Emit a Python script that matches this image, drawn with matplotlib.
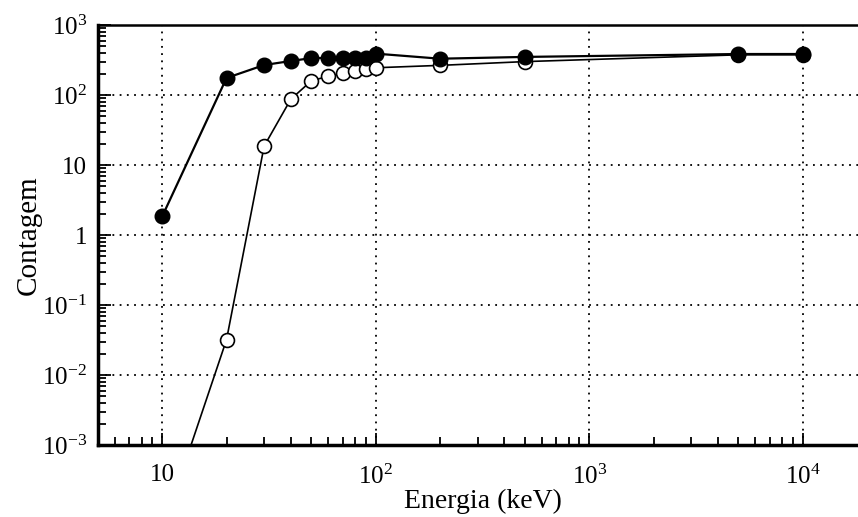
import matplotlib
matplotlib.use("Agg")
import matplotlib.pyplot as plt
from matplotlib.ticker import LogLocator, FixedLocator, FixedFormatter, NullFormatter

plt.rcParams['font.family'] = ['Liberation Serif', 'DejaVu Serif']
plt.rcParams['mathtext.fontset'] = 'custom'
plt.rcParams['mathtext.rm'] = 'Liberation Serif'
plt.rcParams['mathtext.it'] = 'Liberation Serif:italic'

# Data
energy_filled = [10, 20, 30, 40, 50, 60, 70, 80, 90, 100, 200, 500, 5000, 10000]
count_filled = [1.85, 175, 268, 306, 337, 337, 337, 337, 337, 390, 330, 350, 385, 385]
energy_open = [10, 20, 30, 40, 50, 60, 70, 80, 90, 100, 200, 500, 5000, 10000]
count_open = [6e-5, 0.032, 18.6, 87, 160, 185, 206, 220, 238, 245, 265, 300, 375, 375]

xticks = [10, 100, 1000, 10000]
xticklabels = ['10', r'$10^{2}$', r'$10^{3}$', r'$10^{4}$']
yticks = [1e-3, 1e-2, 1e-1, 1, 10, 100, 1000]
yticklabels = [r'$10^{-3}$', r'$10^{-2}$', r'$10^{-1}$', '1', '10', r'$10^{2}$', r'$10^{3}$']

fig = plt.figure(figsize=(8.58, 5.17), dpi=100)
ax = fig.add_axes([98/858, 72/517, 769/858, 420/517])

ax.plot(energy_open, count_open, '-', color='black', lw=1.2,
        marker='o', ms=10, mfc='white', mec='black', mew=1.2, zorder=3)
ax.plot(energy_filled, count_filled, '-', color='black', lw=1.6,
        marker='o', ms=10.5, mfc='black', mec='black', zorder=4)

ax.set_xscale('log')
ax.set_yscale('log')
ax.set_xlim(5, 2e4)
ax.set_ylim(1e-3, 1e3)

ax.xaxis.set_major_locator(FixedLocator(xticks))
ax.xaxis.set_major_formatter(FixedFormatter(xticklabels))
ax.yaxis.set_major_locator(FixedLocator(yticks))
ax.yaxis.set_major_formatter(FixedFormatter(yticklabels))
ax.xaxis.set_minor_locator(LogLocator(base=10, subs=range(2, 10), numticks=20))
ax.yaxis.set_minor_locator(LogLocator(base=10, subs=range(2, 10), numticks=20))
ax.xaxis.set_minor_formatter(NullFormatter())
ax.yaxis.set_minor_formatter(NullFormatter())

ax.tick_params(which='both', direction='in', top=False, right=False,
               labelsize=18, width=1.3, color='black')
ax.tick_params(which='major', length=9)
ax.tick_params(which='minor', length=6)
ax.tick_params(axis='x', which='major', pad=14)
ax.tick_params(axis='y', which='major', pad=8)

ax.grid(True, which='major', linestyle=(0, (1, 3)), color='black', lw=1.3)

ax.spines['left'].set_linewidth(2.5)
ax.spines['bottom'].set_linewidth(2.5)
ax.spines['top'].set_linewidth(1.8)
ax.spines['right'].set_visible(False)

ax.set_xlabel('Energia (keV)', fontsize=20, labelpad=0)
ax.set_ylabel('Contagem', fontsize=21, labelpad=0)

fig.savefig('out.png', dpi=100)
